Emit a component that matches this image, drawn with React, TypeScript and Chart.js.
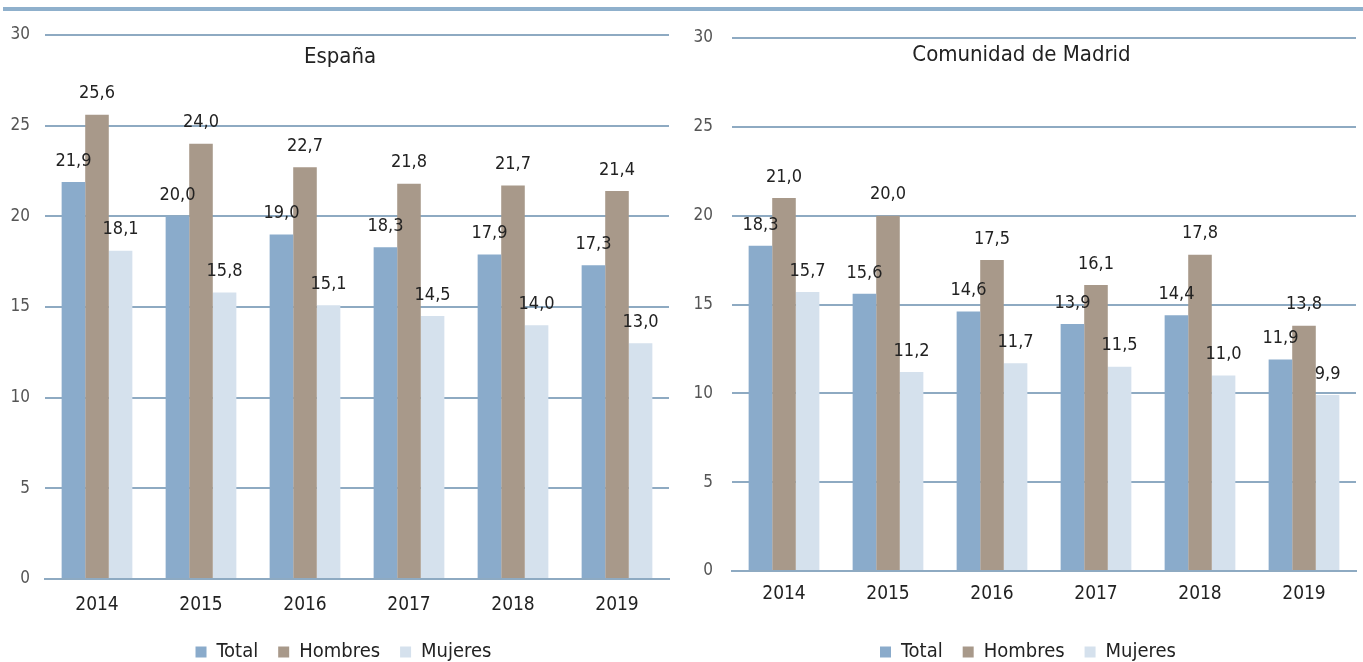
import React, { useEffect, useRef } from "react";
import { Chart, registerables } from "chart.js";

Chart.register(...registerables);

const years = ["2014", "2015", "2016", "2017", "2018", "2019"];
const seriesNames = ["Total", "Hombres", "Mujeres"];
const espanaTotal = [21.9, 20.0, 19.0, 18.3, 17.9, 17.3];
const espanaHombres = [25.6, 24.0, 22.7, 21.8, 21.7, 21.4];
const espanaMujeres = [18.1, 15.8, 15.1, 14.5, 14.0, 13.0];
const madridTotal = [18.3, 15.6, 14.6, 13.9, 14.4, 11.9];
const madridHombres = [21.0, 20.0, 17.5, 16.1, 17.8, 13.8];
const madridMujeres = [15.7, 11.2, 11.7, 11.5, 11.0, 9.9];
const titles = ["España", "Comunidad de Madrid"];
const colors = ["#8aabcb", "#a8998a", "#d5e1ed"];

const FONT = "'DejaVu Sans Condensed', 'Liberation Sans Narrow', 'Liberation Sans', Arial, sans-serif";

const titlePlugin = {
  id: "insideTitle",
  afterDraw(chart: any) {
    const opts = chart.options.plugins.insideTitle;
    if (!opts) return;
    const ctx = chart.ctx;
    ctx.save();
    ctx.font = `22px ${FONT}`;
    ctx.fillStyle = "#222";
    ctx.textAlign = "center";
    ctx.textBaseline = "middle";
    ctx.fillText(opts.text, chart.width / 2 + (opts.dx || 0), chart.chartArea.top + opts.dy);
    ctx.restore();
  },
};

const legendShift = {
  id: "legendShift",
  afterLayout(chart: any) {
    const dx = chart.options.plugins.legendShift?.dx || 0;
    if (chart.legend) {
      chart.legend.left += dx;
      chart.legend.right += dx;
    }
  },
};

const valueLabels = {
  id: "valueLabels",
  afterDatasetsDraw(chart: any) {
    const ctx = chart.ctx;
    ctx.save();
    ctx.font = `18px ${FONT}`;
    ctx.fillStyle = "#222";
    ctx.textAlign = "center";
    ctx.textBaseline = "middle";
    chart.data.datasets.forEach((ds: any, di: number) => {
      const meta = chart.getDatasetMeta(di);
      meta.data.forEach((bar: any, i: number) => {
        const v = ds.data[i];
        ctx.fillText(v.toFixed(1).replace(".", ","), bar.x, bar.y - 21);
      });
    });
    ctx.restore();
  },
};

type Cfg = {
  title: string;
  data: number[][];
  width: number;
  legendDx: number;
  yWidth: number;
  yPad: number;
  xHeight: number;
  xPad: number;
  padTop: number;
  padRight: number;
  titleDy: number;
};

function BarChart({ cfg }: { cfg: Cfg }) {
  const ref = useRef<HTMLCanvasElement>(null);
  useEffect(() => {
    if (!ref.current) return;
    const chart = new Chart(ref.current, {
      type: "bar",
      data: {
        labels: years,
        datasets: seriesNames.map((n, i) => ({
          label: n,
          data: cfg.data[i],
          backgroundColor: colors[i],
          borderWidth: 0,
          barPercentage: 1,
          categoryPercentage: 0.68,
        })),
      },
      plugins: [titlePlugin, valueLabels, legendShift],
      options: {
        responsive: false,
        animation: false,
        layout: { padding: { top: cfg.padTop, right: cfg.padRight, left: 0, bottom: 8 } },
        plugins: {
          insideTitle: { text: cfg.title, dy: cfg.titleDy, dx: 0 },
          legendShift: { dx: cfg.legendDx },
          tooltip: { enabled: false },
          legend: {
            position: "bottom",
            labels: {
              boxWidth: 11,
              boxHeight: 11,
              padding: 20,
              color: "#222",
              font: { family: FONT, size: 20 },
            },
          },
        } as any,
        scales: {
          x: {
            grid: { display: false, drawTicks: false },
            border: { display: true, color: "#8eaac2", width: 2 },
            ticks: { color: "#222", padding: cfg.xPad, font: { family: FONT, size: 19 } },
            afterFit: (s: any) => {
              s.height = cfg.xHeight;
            },
          },
          y: {
            min: 0,
            max: 30,
            ticks: { stepSize: 5, color: "#555", padding: cfg.yPad, font: { family: FONT, size: 17 } },
            grid: { color: "#8eaac2", lineWidth: 2, drawTicks: false },
            border: { display: false },
            afterFit: (s: any) => {
              s.width = cfg.yWidth;
            },
          },
        },
      },
    });
    return () => chart.destroy();
  }, [cfg]);
  return <canvas ref={ref} width={cfg.width} height={680} />;
}

const leftCfg: Cfg = {
  title: titles[0],
  data: [espanaTotal, espanaHombres, espanaMujeres],
  width: 680,
  legendDx: 9,
  yWidth: 45,
  yPad: 15,
  xHeight: 43,
  xPad: 15,
  padTop: 35,
  padRight: 11,
  titleDy: 22,
};

const rightCfg: Cfg = {
  title: titles[1],
  data: [madridTotal, madridHombres, madridMujeres],
  width: 683,
  legendDx: 10,
  yWidth: 52,
  yPad: 19,
  xHeight: 51,
  xPad: 12,
  padTop: 38,
  padRight: 7,
  titleDy: 17,
};

export default function App() {
  return (
    <div
      style={{
        position: "fixed",
        left: 0,
        top: 0,
        width: 1363,
        height: 662,
        overflow: "hidden",
        background: "#fff",
      }}
    >
      <div style={{ position: "absolute", left: 3, top: 7, width: 1360, height: 4, background: "#8fb0cc" }} />
      <div style={{ position: "absolute", left: 0, top: 0, width: 680, height: 680 }}>
        <BarChart cfg={leftCfg} />
      </div>
      <div style={{ position: "absolute", left: 680, top: 0, width: 683, height: 680 }}>
        <BarChart cfg={rightCfg} />
      </div>
    </div>
  );
}
